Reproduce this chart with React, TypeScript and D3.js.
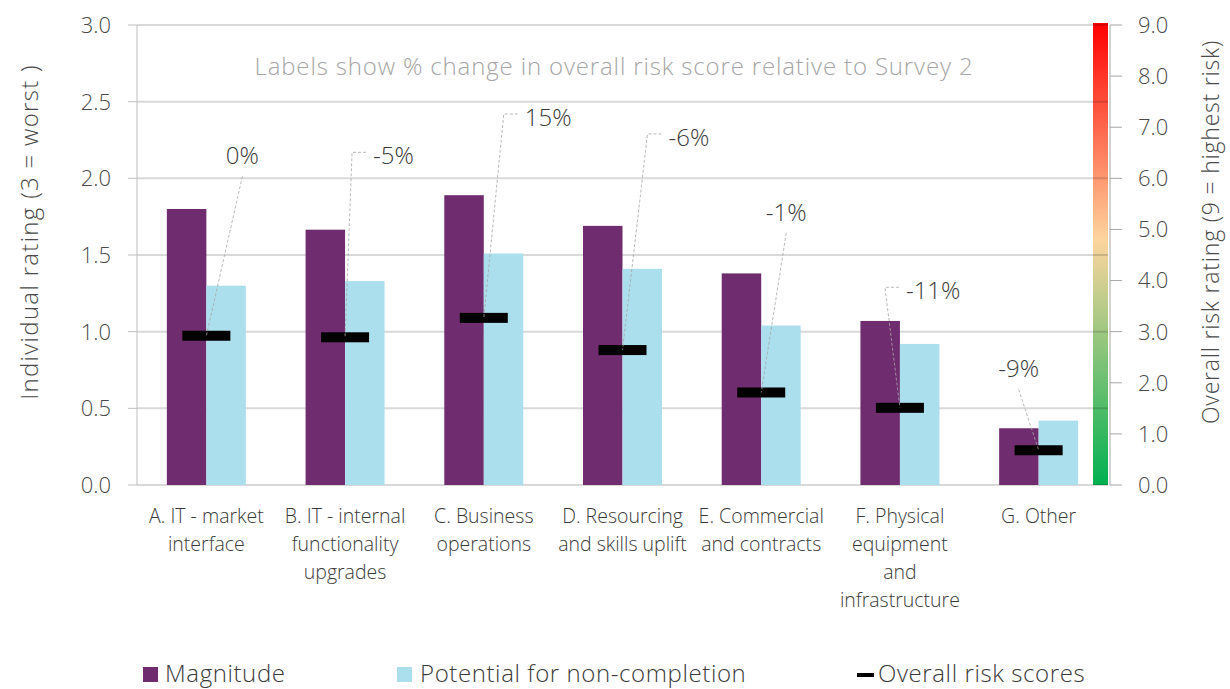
import React from "react";
import * as d3 from "d3";

const categories = [
  ["A. IT - market", "interface"],
  ["B. IT - internal", "functionality", "upgrades"],
  ["C. Business", "operations"],
  ["D. Resourcing", "and skills uplift"],
  ["E. Commercial", "and contracts"],
  ["F. Physical", "equipment", "and", "infrastructure"],
  ["G. Other"],
];
const magnitude = [1.8, 1.665, 1.89, 1.69, 1.38, 1.07, 0.37];
const potential = [1.3, 1.33, 1.51, 1.41, 1.04, 0.92, 0.42];
const overallRisk = [2.92, 2.89, 3.27, 2.64, 1.81, 1.51, 0.68];
const changeLabels = ["0%", "-5%", "15%", "-6%", "-1%", "-11%", "-9%"];
const leftTicks = [0, 0.5, 1, 1.5, 2, 2.5, 3];
const rightTicks = [0, 1, 2, 3, 4, 5, 6, 7, 8, 9];

// where each % label sits: px offset from the category centre, height in left-axis units, elbow leader or not
const labelLayout = [
  { dx: 36, v: 2.15, elbow: false },
  { dx: 28, v: 2.15, elbow: true },
  { dx: 41, v: 2.4, elbow: true },
  { dx: 46, v: 2.27, elbow: true },
  { dx: 25, v: 1.78, elbow: false },
  { dx: 6, v: 1.27, elbow: true },
  { dx: -20, v: 0.76, elbow: false },
];

const W = 1230, H = 689;
const left = 137, right = 1108, top = 25, bottom = 485;
const font = "'Open Sans', 'Noto Sans', sans-serif";
const purple = "#6f2c6f", blue = "#acdfed", txt = "#3a3a3a", axisTxt = "#4a4a4a";

export default function App() {
  const x = d3.scaleBand<number>().domain(d3.range(categories.length)).range([left, right]);
  const y = d3.scaleLinear().domain([0, 3]).range([bottom, top]);
  const yR = d3.scaleLinear().domain([0, 9]).range([bottom, top]);
  const barW = 39.5;
  const cx = (i: number) => (x(i) as number) + x.bandwidth() / 2;

  return (
    <svg width={W} height={H} style={{ position: "absolute", left: 0, top: 0 }} fontFamily={font} fontWeight={350}>
      <defs>
        <linearGradient id="risk" x1="0" y1="1" x2="0" y2="0">
          <stop offset="0%" stopColor="#00b050" />
          <stop offset="53%" stopColor="#fdd59e" />
          <stop offset="100%" stopColor="#ff0000" />
        </linearGradient>
      </defs>
      <rect x={1093} y={yR(9) - 2} width={right - 1093} height={yR(0) - yR(9) + 2} fill="url(#risk)" />
      {leftTicks.map(t => (
        <line key={t} x1={left} x2={right} y1={y(t)} y2={y(t)} stroke="rgba(0,0,0,0.15)" strokeWidth={2} />
      ))}
      <line x1={left} x2={left} y1={top} y2={bottom} stroke="#bfbfbf" />
      {leftTicks.map(t => (
        <g key={"l" + t}>
          <line x1={128} x2={left} y1={y(t)} y2={y(t)} stroke="#bfbfbf" />
          <text x={111} y={y(t)} dy="0.36em" textAnchor="end" fontSize={22} fill={axisTxt}>{t.toFixed(1)}</text>
        </g>
      ))}
      <line x1={1110} x2={1110} y1={top} y2={bottom} stroke="#a6a6a6" />
      {rightTicks.map(t => (
        <g key={"r" + t}>
          <line x1={1110} x2={1122} y1={yR(t)} y2={yR(t)} stroke="#a6a6a6" />
          <text x={1138} y={yR(t)} dy="0.36em" fontSize={22} fill={axisTxt}>{t.toFixed(1)}</text>
        </g>
      ))}
      <text transform={`translate(38,232) rotate(-90)`} textAnchor="middle" fontSize={24} letterSpacing={1.3} fill={axisTxt}>Individual rating (3 = worst )</text>
      <text transform={`translate(1219,232) rotate(-90)`} textAnchor="middle" fontSize={23} letterSpacing={0.8} fill={axisTxt}>Overall risk rating (9 = highest risk)</text>
      <text x={614} y={75} textAnchor="middle" fontSize={24} letterSpacing={0.85} fill="#a6a6a6">Labels show % change in overall risk score relative to Survey 2</text>

      {magnitude.map((v, i) => (
        <rect key={"m" + i} x={cx(i) - barW} y={y(v)} width={barW} height={y(0) - y(v)} fill={purple} />
      ))}
      {potential.map((v, i) => (
        <rect key={"p" + i} x={cx(i)} y={y(v)} width={barW} height={y(0) - y(v)} fill={blue} />
      ))}
      {overallRisk.map((v, i) => (
        <rect key={"o" + i} x={cx(i) - 24} y={yR(v) - 5} width={48} height={10} fill="#000" />
      ))}

      {changeLabels.map((lab, i) => {
        const L = labelLayout[i];
        const tx = cx(i) + L.dx, ty = y(L.v);
        const my = yR(overallRisk[i]);
        const d = L.elbow
          ? `M${tx - 7},${ty - 3}H${tx - 21}L${cx(i)},${my}`
          : `M${tx},${ty + 21}L${cx(i)},${my}`;
        return (
          <g key={"c" + i}>
            <path d={d} fill="none" stroke="#a6a6a6" strokeWidth={0.8} strokeDasharray="3,2" />
            <text x={tx} y={ty} dy="0.36em" textAnchor={L.elbow ? "start" : "middle"} fontSize={24} fill={txt}>{lab}</text>
          </g>
        );
      })}

      {categories.map((lines, i) => (
        <text key={"x" + i} x={cx(i)} y={523} textAnchor="middle" fontSize={19.5} fill={txt}>
          {lines.map((ln, j) => (
            <tspan key={j} x={cx(i)} dy={j === 0 ? 0 : 28}>{ln}</tspan>
          ))}
        </text>
      ))}

      <rect x={143} y={667} width={15} height={15} fill={purple} />
      <text x={165} y={682} fontSize={24} letterSpacing={0.6} fill={txt}>Magnitude</text>
      <rect x={397} y={667} width={15} height={15} fill={blue} />
      <text x={420} y={682} fontSize={24} letterSpacing={0.6} fill={txt}>Potential for non-completion</text>
      <rect x={857} y={673} width={17} height={4} fill="#000" />
      <text x={878} y={682} fontSize={24} letterSpacing={0.6} fill={txt}>Overall risk scores</text>
    </svg>
  );
}
